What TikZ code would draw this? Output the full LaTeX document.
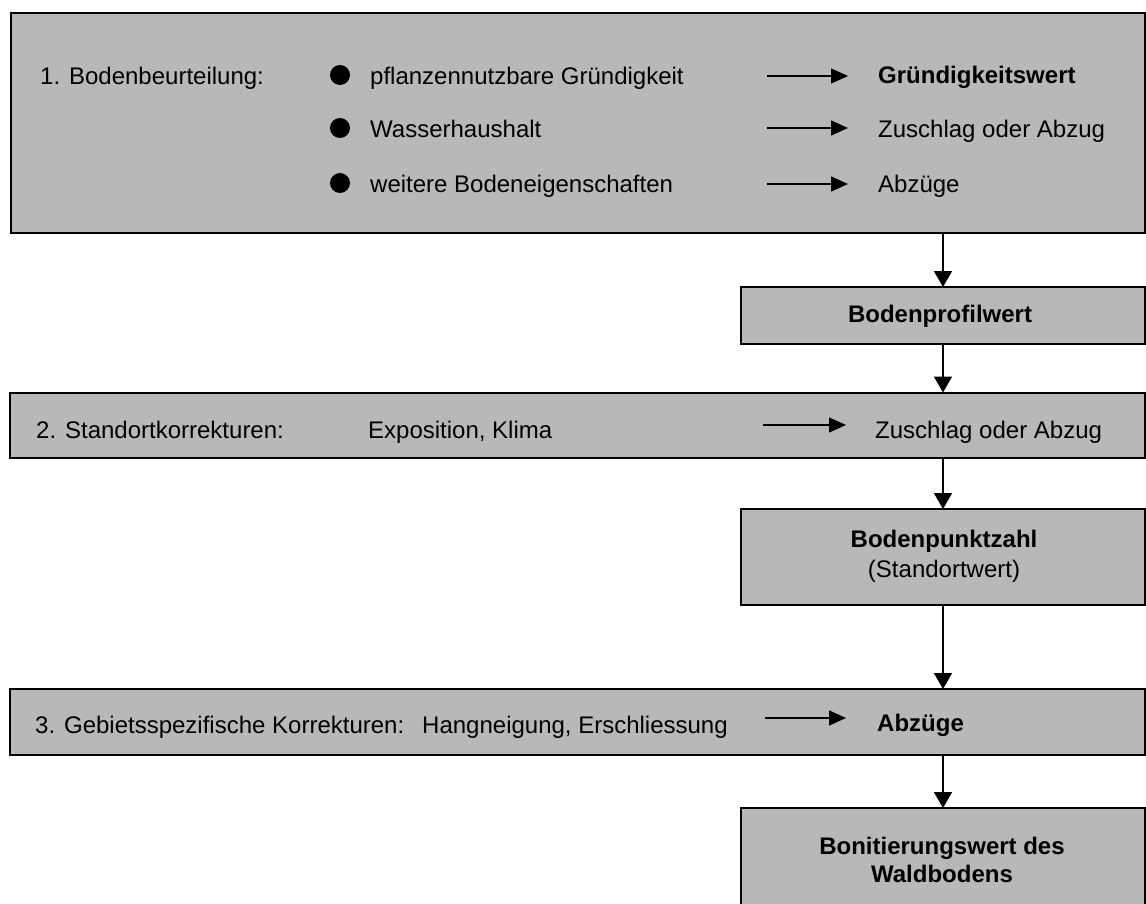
\documentclass[tikz,border=0pt]{standalone}
\usepackage{fontspec}
\setmainfont{Liberation Sans}
\usetikzlibrary{arrows.meta}
\definecolor{panel}{gray}{0.72}
\begin{document}
\begin{tikzpicture}[x=1pt,y=-1pt,
  panelbox/.style={draw=black,line width=2pt,fill=panel,rectangle,inner sep=0pt,outer sep=0pt},
  txt/.style={anchor=base west,inner sep=0pt,font=\fontsize{24}{29}\selectfont},
  btxt/.style={anchor=base west,inner sep=0pt,font=\fontsize{24}{29}\selectfont\bfseries},
  ctxt/.style={inner sep=0pt,align=center,font=\fontsize{24}{30}\selectfont},
  flow/.style={line width=1.8pt,-{Triangle[width=18pt,length=16pt]}},
  pointer/.style={line width=1.6pt,-{Triangle[width=15pt,length=17pt]}},
  dot/.style={circle,fill=black,inner sep=0pt,minimum size=20pt},
]
\clip (0,0) rectangle (1146,904);
\fill[white] (0,0) rectangle (1146,904);

% panels
\node[panelbox,minimum width=1134pt,minimum height=220pt] (boden) at (578,123) {};
\node[panelbox,minimum width=404pt,minimum height=57pt] (profil) at (943,315.5) {};
\node[panelbox,minimum width=1135pt,minimum height=65pt] (standort) at (577.5,425) {};
\node[panelbox,minimum width=404pt,minimum height=96pt] (punkt) at (943,557) {};
\node[panelbox,minimum width=1135pt,minimum height=66pt] (gebiet) at (577.5,722) {};
\node[panelbox,minimum width=404pt,minimum height=104pt] (bonit) at (943,860) {};

% 1. Bodenbeurteilung
\node[txt] (b1) at (40,85) {1. Bodenbeurteilung:};
\node[dot] (d1) at (340,75) {};
\node[dot] (d2) at (340,128) {};
\node[dot] (d3) at (340,183) {};
\node[txt] (k1) at (370,85) {pflanzennutzbare Gründigkeit};
\node[txt] (k2) at (370,138) {Wasserhaushalt};
\node[txt] (k3) at (370,193) {weitere Bodeneigenschaften};
\coordinate (a1s) at (767,76);  \coordinate (a1e) at (848,76);
\coordinate (a2s) at (767,128); \coordinate (a2e) at (848,128);
\coordinate (a3s) at (767,184); \coordinate (a3e) at (848,184);
\draw[pointer] (a1s) -- (a1e);
\draw[pointer] (a2s) -- (a2e);
\draw[pointer] (a3s) -- (a3e);
\node[btxt] (r1) at (878,84) {Gründigkeitswert};
\node[txt] (r2) at (878,138) {Zuschlag oder Abzug};
\node[txt] (r3) at (878,193) {Abzüge};

% Bodenprofilwert
\node[ctxt,font=\fontsize{24}{30}\selectfont\bfseries] (profiltxt) at (940,316) {Bodenprofilwert};

% 2. Standortkorrekturen
\node[txt] (s1) at (36,438) {2. Standortkorrekturen:};
\node[txt] (s2) at (368,438) {Exposition, Klima};
\coordinate (a4s) at (763,425); \coordinate (a4e) at (846,425);
\draw[pointer] (a4s) -- (a4e);
\node[txt] (s3) at (875,438) {Zuschlag oder Abzug};

% Bodenpunktzahl
\node[ctxt] (punkttxt) at (944,556) {\textbf{Bodenpunktzahl}\\(Standortwert)};

% 3. Gebietsspezifische Korrekturen
\node[txt] (g1) at (35,733) {3. Gebietsspezifische Korrekturen:};
\node[txt] (g2) at (422,733) {Hangneigung, Erschliessung};
\coordinate (a5s) at (765,718); \coordinate (a5e) at (846,718);
\draw[pointer] (a5s) -- (a5e);
\node[btxt] (g3) at (877,731) {Abzüge};

% Bonitierungswert
\node[ctxt,font=\fontsize{24}{28}\selectfont\bfseries] (bonittxt) at (942,860) {Bonitierungswert des\\Waldbodens};

% flow between panels
\draw[flow] (boden.south -| profil.north) -- (profil.north);
\draw[flow] (profil.south) -- (profil.south |- standort.north);
\draw[flow] (standort.south -| punkt.north) -- (punkt.north);
\draw[flow] (punkt.south) -- (punkt.south |- gebiet.north);
\draw[flow] (gebiet.south -| bonit.north) -- (bonit.north);
\end{tikzpicture}
\end{document}
